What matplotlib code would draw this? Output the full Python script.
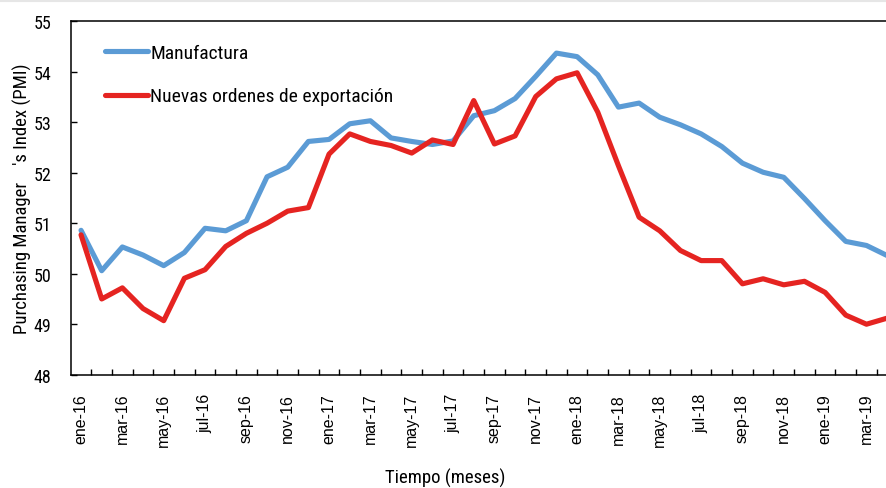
"""PMI manufactura vs nuevas ordenes de exportacion, ene-16 a abr-19."""

import matplotlib

matplotlib.use("Agg")
import matplotlib.pyplot as plt
from matplotlib.lines import Line2D
from matplotlib.ticker import FixedLocator

NARROW = "Roboto Condensed"
REGULAR = "Liberation Sans"

MONTHS = ["ene", "feb", "mar", "abr", "may", "jun",
          "jul", "ago", "sep", "oct", "nov", "dic"]
labels = [f"{m}-{y}" for y in ("16", "17", "18", "19") for m in MONTHS][:40]

manufactura = [
    50.86, 50.06, 50.53, 50.37, 50.16, 50.42, 50.90, 50.85, 51.05, 51.92,
    52.11, 52.62, 52.66, 52.97, 53.03, 52.69, 52.62, 52.56, 52.63, 53.13,
    53.23, 53.47, 53.91, 54.37, 54.30, 53.94, 53.30, 53.38, 53.10, 52.95,
    52.77, 52.52, 52.19, 52.01, 51.91, 51.49, 51.05, 50.64, 50.56, 50.36,
]
exportacion = [
    50.77, 49.50, 49.72, 49.31, 49.07, 49.91, 50.08, 50.54, 50.80, 51.00,
    51.24, 51.31, 52.37, 52.77, 52.62, 52.54, 52.39, 52.65, 52.56, 53.43,
    52.57, 52.73, 53.51, 53.86, 53.98, 53.20, 52.14, 51.12, 50.85, 50.46,
    50.26, 50.26, 49.80, 49.90, 49.78, 49.85, 49.63, 49.18, 49.00, 49.12,
]

BLUE = "#5b9bd5"
RED = "#e52421"

fig = plt.figure(figsize=(8.87, 4.89), dpi=100)
# right edge of the axes falls outside the picture, as in the source
ax = fig.add_axes([0.0797, 0.2317, 0.9321, 0.7227])

x = list(range(len(labels)))
ax.plot(x, manufactura, color=BLUE, lw=3.7, solid_capstyle="round",
        solid_joinstyle="round", label="Manufactura")
ax.plot(x, exportacion, color=RED, lw=3.7, solid_capstyle="round",
        solid_joinstyle="round", label="Nuevas ordenes de exportación")

ax.set_xlim(-0.5, len(labels) - 0.5)
ax.set_ylim(48, 55)

ax.set_xticks(x[::2])
ax.set_xticklabels(labels[::2], rotation=90, va="top", ha="center",
                   fontfamily=REGULAR, fontsize=11.5)
ax.xaxis.set_minor_locator(FixedLocator([i + 0.5 for i in range(len(labels) - 1)]))
ax.tick_params(axis="x", which="major", length=0, pad=13)
ax.tick_params(axis="x", which="minor", direction="in", length=4, width=1)

ax.set_yticks(range(48, 56))
ax.set_yticklabels([str(v) for v in range(48, 56)], fontfamily=NARROW,
                   fontsize=13)
ax.tick_params(axis="y", direction="in", length=4, width=1, pad=14)

for side in ("left", "bottom", "top", "right"):
    ax.spines[side].set_linewidth(1.1)
    ax.spines[side].set_color("black")

ax.set_ylabel("Purchasing Manager    's Index (PMI)", fontfamily=NARROW,
              fontsize=13.5, labelpad=1)
fig.text(445 / 887, 1 - 478 / 489, "Tiempo (meses)", fontfamily=NARROW,
         fontsize=13.5, ha="center", va="center")

ax.legend(loc="upper left", bbox_to_anchor=(0.02, 0.985), frameon=False,
          handlelength=2.2, handletextpad=0.15, labelspacing=1.3,
          prop={"family": NARROW, "size": 14})

# faint border line at the very top of the picture
fig.add_artist(Line2D([0, 1], [1 - 1.5 / 489] * 2, color="#e6e6e6", lw=1.5,
                      transform=fig.transFigure))

fig.savefig("out.png", dpi=100)
